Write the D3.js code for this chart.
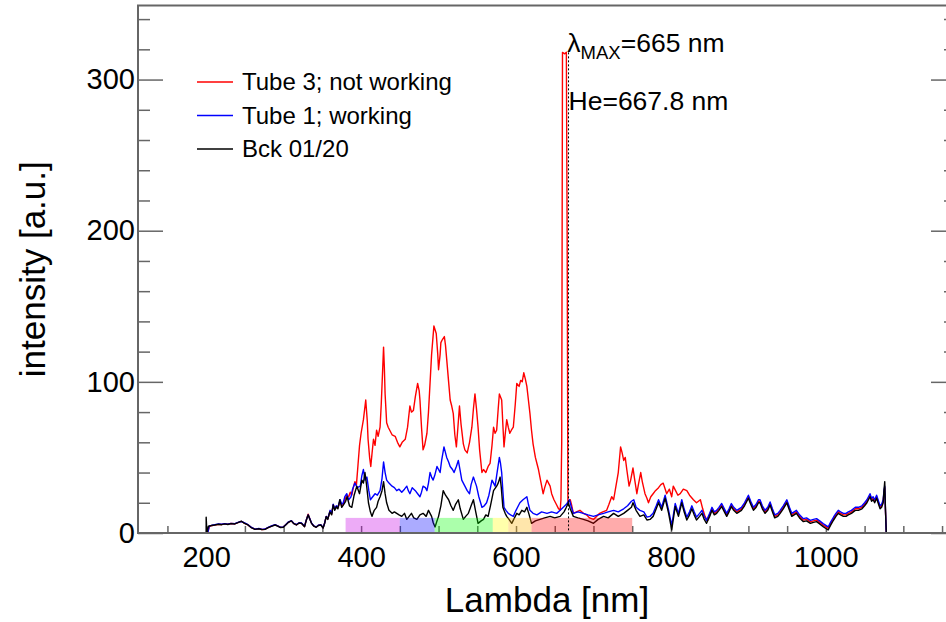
<!DOCTYPE html>
<html>
<head>
<meta charset="utf-8">
<script src="https://cdn.jsdelivr.net/npm/d3@7"></script>
<style>
  body { margin: 0; background: #fff; }
  svg { display: block; font-family: "Liberation Sans", Arial, Helvetica, sans-serif; }
  .axis text { fill: #000; }
  .axis line { stroke: #666; stroke-width: 1.5; }
</style>
</head>
<body>
<div id="chart"></div>
<script>
// Spectra: [lambda (nm), intensity (a.u.)]
const tube3 = [
  [200,0],[202,0],[204,4.3],[208,5],[211,5.2],[216,5.7],[220,5.6],[224,6],[228,5.8],[232,6.3],[237,6.1],[241,6.9],[245.5,7.7],[249,6.6],[254,5.4],[258,3.7],[263,2.5],[268,2.9],[272,2.3],[276,2.5],[280,3.6],[285,4.7],[289,5.4],[293,4.5],[296,3.7],[299.5,3.9],[303,5.6],[306,7.1],[310,8.1],[313,6.3],[316.5,5.4],[320,6.7],[323,6.5],[327,4.3],[329,8.1],[331.6,12.5],[334,9.1],[336,6.5],[339,4.6],[342,3.9],[345,5.1],[348,5.4],[351,3.4],[353,6.7],[355,10.9],[357,9.3],[360,14.5],[362,12.5],[364,18.7],[366,15.5],[368,17.7],[370,16.5],[373,21],[375,18],[377,19],[379,22],[381.5,25],[384,24],[386,27],[388,25],[390,30],[392,34],[394,32],[396,45],[398,58],[400,66],[403,75],[406,88],[408,74],[409,62],[411,50],[412.5,44],[414,52],[416,62],[418,58],[420,68],[422,64],[424.5,70],[426,85],[428,110],[429,123],[430,110],[431,92],[433,73],[435,70],[437,68],[440,65],[444,64],[447,60],[450,57],[453,60],[457,62],[460,70],[463,84],[465,80],[467.5,81],[470,90],[473,99],[475,94],[476,88],[478,70],[480,55],[482,58],[485,66],[487,80],[489,99],[491,118],[494,137],[497,132],[499,118],[500,108],[502,118],[503,126],[505,128],[507.5,130],[509,124],[510.5,115],[513,100],[515,88],[517,84],[519,79],[521,65],[523,57],[525,70],[527,84],[529,72],[532,59],[534,55],[537,53],[540,60],[543,70],[545,82],[547,92],[549,82],[551,70],[553,55],[556,40],[558,42],[561,40],[564,44],[566.5,46],[569,58],[571,70],[573,66],[575,68],[577,82],[578.5,92],[580,90],[581.5,88],[583,72],[584.5,57],[586,65],[588,75],[590,70],[592,66],[594,68],[596.5,70],[599,85],[601,99],[604,97],[606,101],[608,100],[610,106],[612,102],[614,97],[616,88],[618,79],[620,68],[622,59],[625,50],[627,46],[629,42],[632,34],[635,26],[637,30],[640,35],[642,33],[644,31],[646,26],[649,22],[652,19],[655,16],[657,15],[658,22],[659,60],[660,318],[663,317],[665,318],[666,200],[667,20],[670,22],[672,18],[674,13],[678,14],[682.5,15],[687,13],[691,12],[695,10],[700,9],[704,11],[708,13],[712,14],[717,15],[720,19],[723.5,24],[726,22],[729,31],[732,40],[735,57],[737,53],[739,48],[741,50],[743,42],[746,31],[748,35],[751,43],[753,36],[756,26],[758,32],[761,40],[763,34],[766.5,26],[769,23],[771,20],[774,24],[777,26],[780,28],[784,30],[787,32],[790,33],[792,30],[794.5,26],[798,29],[801,24],[803,31],[806,28],[809,25],[812,26],[816,29],[820.5,28],[824,25],[829,22],[833,20],[838,22],[841,16],[844,11],[847,8],[850,12],[853,16],[856,13],[859,14],[862,16],[865.5,18.5],[869,15],[872,12],[875,15],[878,18.5],[881,16],[885,14],[888,15],[891,16],[895,19],[898,22],[900,24],[903,20],[906.5,16],[910,18],[913,21],[915,21],[918,17],[921.5,14],[925,16],[928,19.5],[931,15],[934,11],[938,12],[941,14],[945,17],[949.6,21],[953,16],[956,12],[959,13],[962,14],[966,11],[971,8.5],[975,9],[980,7.4],[984,8],[988,8.5],[992,7],[996.5,5.2],[1000,4],[1003,3],[1006,6],[1010,9.6],[1013,12],[1016,14],[1019,13],[1022.6,12],[1026,12],[1029,13],[1033,14],[1038,16],[1042,16],[1046.6,17],[1050,19],[1053,21],[1055,23],[1057,25],[1059,22],[1061,23],[1063,21],[1065.5,24],[1068,20],[1070,17],[1072,18],[1074,21],[1075,27],[1076,30],[1077,14],[1078,0]
];

const tube1 = [
  [200,0],[202,0],[204,4.5],[208,5.2],[211,5.5],[216,6],[220,5.8],[224,6.2],[228,5.9],[232,6.4],[237,6.2],[241,7],[245.5,7.6],[249,6.8],[254,5.5],[258,3.9],[263,2.6],[268,3],[272,2.4],[276,2.6],[280,3.7],[285,4.8],[289,5.5],[293,4.6],[296,3.8],[299.5,4],[303,5.7],[306,7.2],[310,8.2],[313,6.4],[316.5,5.5],[320,6.8],[323,6.6],[327,4.4],[329,8.2],[331.6,12],[334,9.2],[336,6.6],[339,4.7],[342,4],[345,5.2],[348,5.5],[351,3.5],[353,6.8],[355,11],[357,9.5],[360,15],[362,13],[364,19],[366,16],[368,18],[370,17],[373,22],[375,19],[377,20],[379,24],[381.5,26],[384,22],[387,24],[389,29],[392,33],[395,30],[399,31],[401,38],[403,42],[405,35],[407.5,37],[410,28],[412,22],[415,24],[418,26],[421,25],[424.5,28],[427,36],[429,47],[431,40],[433,35],[436,33],[440,31],[443,30],[446,28],[449,29],[452.5,27],[456,29],[459,31],[461,28],[463,26],[466,30],[470,28],[473,26],[476,24],[478,27],[480,31],[483,30],[485,28],[487,33],[489,40],[491,37],[493,35],[495,38],[498,44],[500,42],[502,40],[504,48],[507,57],[509,53],[510.5,50],[513,47],[515,44],[518,42],[520,40],[523,44],[525.5,48],[528,41],[530,35],[532,33],[534,31],[537,28],[540,26],[542,32],[545,37],[547,34],[549,31],[552,24],[556,17],[559,18],[562,20],[565,25],[569,35],[571,33],[573,31],[575,38],[578.5,50],[580,46],[581.5,40],[583,28],[584.5,17],[587,15],[590,13],[593,12],[596.5,11],[600,15],[605,20],[609,22],[614,24],[616,19],[618,15],[622,13],[627,12],[633,14],[640,13],[646,14],[652.5,13],[657,15],[661,17],[665,19],[669,22],[671,18],[674,13],[680,14],[687,13],[693,12],[700,11],[706,12],[713,13],[719,14],[726,15],[732,14],[739,16],[744,18],[749,21],[752,22],[755,17],[760,15],[765,14],[769,10.5],[773,11],[777,13],[781,18],[784,22],[788,17],[792.5,25],[797,15],[801,5],[805.5,19.5],[809.7,13],[814,22],[817,16],[820.5,10.5],[824,14],[827,18],[830,14],[833,10.5],[837,13],[840,15],[843,11],[846,8.4],[850,13],[853,17],[856,14],[859,15],[862,17],[865.5,19.5],[869,16],[872,13],[875,16],[878,19.5],[881,17],[885,15],[888,16],[891,17],[895,20],[898,23],[900,25],[903,21],[906.5,17],[910,19],[913,22],[915,22],[918,18],[921.5,15],[925,17],[928,20.5],[931,16],[934,12],[938,13],[941,15],[945,18],[949.6,22],[953,17],[956,13],[959,14],[962,15],[966,12],[971,9.5],[975,10],[980,8.4],[984,9],[988,9.5],[992,8],[996.5,6.2],[1000,5],[1003,4],[1006,7],[1010,10.6],[1013,13],[1016,15],[1019,14],[1022.6,13],[1026,13],[1029,14],[1033,15],[1038,17],[1042,17],[1046.6,18],[1050,20],[1053,22],[1055,24],[1057,26],[1059,23],[1061,24],[1063,22],[1065.5,25],[1068,21],[1070,18],[1072,19],[1074,22],[1075,28],[1076,31],[1077,14],[1078,0]
];

const bck = [
  [200,0],[200,10.5],[201,0],[203,4.5],[207,5],[211,5.3],[216,5.8],[220,5.5],[224,6],[228,5.6],[232,6.2],[237,6],[241,6.8],[245.5,7.8],[249,6.5],[254,5.3],[258,3.6],[263,2.4],[268,2.8],[272,2.2],[276,2.4],[280,3.5],[285,4.6],[289,5.3],[293,4.4],[296,3.6],[299.5,3.8],[303,5.5],[306,7],[310,8],[313,6.2],[316.5,5.3],[320,6.6],[323,6.4],[327,4.2],[329,8],[331.6,12],[334,9],[336,6.4],[339,4.5],[342,3.8],[345,5],[348,5.3],[351,3.3],[353,6.5],[355,10.8],[357,9],[359.6,14],[362,12],[364,18.5],[366,15],[368,17.4],[370,16],[372.5,22],[375,17],[377,18.5],[380,21],[382,24],[385,18],[388,17],[391,25],[394.5,31],[398,26],[401,35],[403,33],[405,40],[407,32],[409.5,20],[412,14],[414,11],[417,15],[420,17],[422,21],[424.5,24],[427,28],[429,34],[431,26],[433,20],[436,15],[440,13],[443,14],[446,13],[449,12],[452.5,11],[456,13],[459,9],[462,11],[465,13],[468,10],[472,9],[476,12],[480,13],[484,11],[487,15],[491,11],[493,7],[495.5,4],[498,8],[500,11],[503,18],[506,28],[509,25],[513,22],[516,18],[519,15],[522,19],[525.5,22],[528,16],[532,9],[535,11],[538.5,13],[542,18],[545,22],[548,14],[551,6.4],[555,8],[558,9],[561,12],[564,11],[567,18],[571,28],[575,31],[577,33],[579.5,37],[581,30],[583,17],[586,13],[588,11],[591,9],[594.5,6.4],[598,10],[601,13],[604,12],[607.5,15],[611,14],[614,17],[617,12],[620,6.4],[625,8],[631,9],[637,10],[644,11],[650,10],[657,11],[662,14],[665,17],[667.5,20],[670,16],[674,11],[680,10],[687,9],[693,8],[700,6.4],[706,9],[713,11],[719,10],[726,13],[732,11],[739,13],[744,15],[749,17],[751,20],[755,15],[760,11],[765,12],[769,8.6],[773,9],[777,11],[781,16],[784,20],[788,15],[792.5,23],[797,13],[801,2],[805.5,17.5],[809.7,11],[814,20],[817,14],[820.5,8.6],[824,12],[827,16],[830,12],[833,8.6],[837,11],[840,13],[843,9],[846,6.4],[850,11],[853,15],[856,12],[859,13],[862,15],[865.5,17.5],[869,14],[872,11],[875,14],[878,17.5],[881,15],[885,13],[888,14],[891,15],[895,18],[898,21],[900,23],[903,19],[906.5,15],[910,17],[913,20],[915,20],[918,16],[921.5,13],[925,15],[928,18.5],[931,14],[934,10],[938,11],[941,13],[945,16],[949.6,20],[953,15],[956,11],[959,12],[962,13],[966,10],[971,7.5],[975,8],[980,6.4],[984,7],[988,7.5],[992,6],[996.5,4.2],[1000,3],[1003,2],[1006,5],[1010,8.6],[1013,11],[1016,13],[1019,12],[1022.6,11],[1026,11],[1029,12],[1033,13],[1038,15],[1042,15],[1046.6,16],[1050,18],[1053,20],[1055,22],[1057,24],[1059,21],[1061,22],[1063,20],[1065.5,23],[1068,19],[1070,16],[1072,17],[1074,20],[1075,28],[1076,34],[1077,15],[1078,0]
];

// visible spectrum bands along the axis
const bandStart = [380, 450, 495, 570, 590, 620];
const bandEnd   = [450, 495, 570, 590, 620, 750];
const bandColor = ["#c800e6", "#0000ff", "#00ff00", "#ffff00", "#ffb400", "#ff0000"];
const bandHeight = 10;

const legendLabels = ["Tube 3; not working", "Tube 1; working", "Bck 01/20"];
const legendColors = ["#ff0000", "#0000ff", "#000000"];

const xMajor = [200, 400, 600, 800, 1000];
const yMajor = [0, 100, 200, 300];
const lambdaMax = 665;
const heLine = 667.8;

const width = 946, height = 622;
const frame = { left: 138, right: 956, top: 5.5, bottom: 533 };

const svg = d3.select("#chart").append("svg")
  .attr("width", width)
  .attr("height", height);

const x = d3.scaleLinear().domain([112, 1168]).range([frame.left, frame.right]);
const y = d3.scaleLinear().domain([0, 349]).range([frame.bottom, frame.top]);

// x axis: small ticks every 50 nm, labels on the 200s
const xTicks = d3.range(150, 1151, 50);
const gx = svg.append("g")
  .attr("class", "axis")
  .attr("transform", `translate(0,${frame.bottom})`)
  .call(d3.axisBottom(x).tickValues(xTicks).tickSize(-7).tickPadding(13)
    .tickFormat(d => xMajor.includes(d) ? d : ""));
gx.select(".domain").remove();
gx.selectAll("text").style("font-size", "29px");

// y axis left, major + minor
const yMinor = d3.range(0, 349, 20).filter(d => d % 100 !== 0);
const gy = svg.append("g")
  .attr("class", "axis")
  .attr("transform", `translate(${frame.left},0)`)
  .call(d3.axisLeft(y).tickValues(yMajor).tickSize(-25).tickPadding(3));
gy.select(".domain").remove();
gy.selectAll("text").style("font-size", "29px");

const gyMinor = svg.append("g")
  .attr("class", "axis")
  .attr("transform", `translate(${frame.left},0)`)
  .call(d3.axisLeft(y).tickValues(yMinor).tickSize(-12).tickFormat(""));
gyMinor.select(".domain").remove();

// right side ticks (frame edge falls just past the picture)
const gr = svg.append("g")
  .attr("class", "axis")
  .attr("transform", `translate(${frame.right},0)`)
  .call(d3.axisRight(y).tickValues(yMajor).tickSize(-25).tickFormat(""));
gr.select(".domain").remove();
const grMinor = svg.append("g")
  .attr("class", "axis")
  .attr("transform", `translate(${frame.right},0)`)
  .call(d3.axisRight(y).tickValues(yMinor).tickSize(-12).tickFormat(""));
grMinor.select(".domain").remove();

// spectra
const line = d3.line().x(d => x(d[0])).y(d => y(d[1]));
[[tube3, "#ff0000"], [tube1, "#0000ff"], [bck, "#000000"]].forEach(([data, col]) => {
  svg.append("path")
    .datum(data)
    .attr("fill", "none")
    .attr("stroke", col)
    .attr("stroke-width", 1.4)
    .attr("stroke-linejoin", "round")
    .attr("d", line);
});

// colour bands
svg.append("g").selectAll("rect")
  .data(bandStart)
  .join("rect")
  .attr("x", d => x(d))
  .attr("width", (d, i) => x(bandEnd[i]) - x(d))
  .attr("y", y(bandHeight))
  .attr("height", y(0) - y(bandHeight))
  .attr("fill", (d, i) => bandColor[i])
  .attr("fill-opacity", 0.33);

// He line
svg.append("line")
  .attr("x1", x(heLine)).attr("x2", x(heLine))
  .attr("y1", y(318)).attr("y2", y(0))
  .attr("stroke", "#000")
  .attr("stroke-width", 1)
  .attr("stroke-dasharray", "2,2");

// frame
svg.append("rect")
  .attr("x", frame.left).attr("y", frame.top)
  .attr("width", frame.right - frame.left)
  .attr("height", frame.bottom - frame.top)
  .attr("fill", "none")
  .attr("stroke", "#666")
  .attr("stroke-width", 2);

// annotations
const lab = svg.append("text")
  .attr("x", x(lambdaMax) + 1)
  .attr("y", 52)
  .style("font-size", "26.5px");
lab.append("tspan").text("λ");
lab.append("tspan").attr("dy", 7).style("font-size", "18.5px").text("MAX");
lab.append("tspan").attr("dy", -7).text(`=${lambdaMax} nm`);

svg.append("text")
  .attr("x", x(heLine))
  .attr("y", 110)
  .style("font-size", "26.5px")
  .text(`He=${heLine} nm`);

// legend
const leg = svg.append("g").selectAll("g")
  .data(legendLabels)
  .join("g")
  .attr("transform", (d, i) => `translate(197,${82 + i * 33.5})`);
leg.append("line")
  .attr("x1", 0).attr("x2", 36)
  .attr("stroke", (d, i) => legendColors[i])
  .attr("stroke-width", 1.4);
leg.append("text")
  .attr("x", 45)
  .attr("dy", "0.34em")
  .style("font-size", "24px")
  .text(d => d);

// axis titles
svg.append("text")
  .attr("x", (frame.left + frame.right) / 2)
  .attr("y", 612)
  .attr("text-anchor", "middle")
  .style("font-size", "35px")
  .text("Lambda [nm]");

svg.append("text")
  .attr("transform", `translate(45,${(frame.top + frame.bottom) / 2}) rotate(-90)`)
  .attr("text-anchor", "middle")
  .style("font-size", "35px")
  .text("intensity [a.u.]");
</script>
</body>
</html>
